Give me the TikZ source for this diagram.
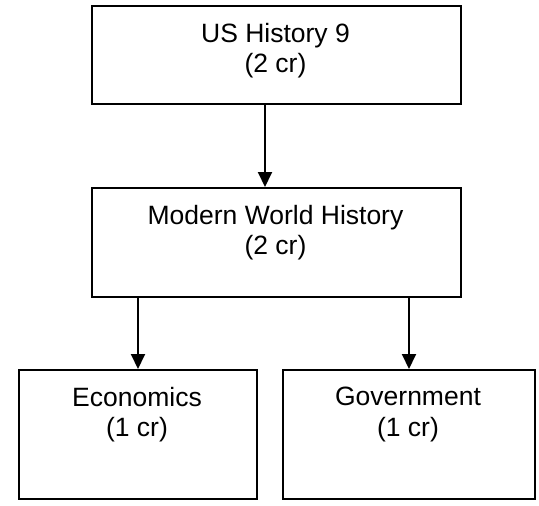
\documentclass[tikz,border=0pt]{standalone}
\usepackage{fontspec}
\setmainfont{Liberation Sans}
\usetikzlibrary{arrows.meta}
\begin{document}
\begin{tikzpicture}[x=1pt,y=-1pt,
 box/.style={draw, line width=2pt, inner sep=0pt, anchor=north west},
 lbl/.style={font=\fontsize{26.5}{30.5}\selectfont, align=center, anchor=north, inner sep=0pt},
 conn/.style={line width=2pt, -{Triangle[length=15pt,width=14pt]}}]
\useasboundingbox (0,0) rectangle (539,506);
\node[box, minimum width=369pt, minimum height=98pt] (us) at (91,5) {};
\node[box, minimum width=369pt, minimum height=109pt] (mwh) at (91,187) {};
\node[box, minimum width=238pt, minimum height=129pt] (econ) at (18,369) {};
\node[box, minimum width=252pt, minimum height=129pt] (gov) at (282,369) {};
\node[lbl] (ust) at (275.5,23) {US History 9\\(2 cr)};
\node[lbl] (mwht) at (275.5,205) {Modern World History\\(2 cr)};
\node[lbl] (econt) at (137,387) {Economics\\(1 cr)};
\node[lbl] (govt) at (408,387) {Government\\(1 cr)};
\draw[conn] ([xshift=-11.5pt]us.south) -- ([xshift=-11.5pt]mwh.north);
\draw[conn] (econ.north |- mwh.south) -- (econ.north);
\draw[conn] (gov.north |- mwh.south) -- (gov.north);
\end{tikzpicture}
\end{document}
